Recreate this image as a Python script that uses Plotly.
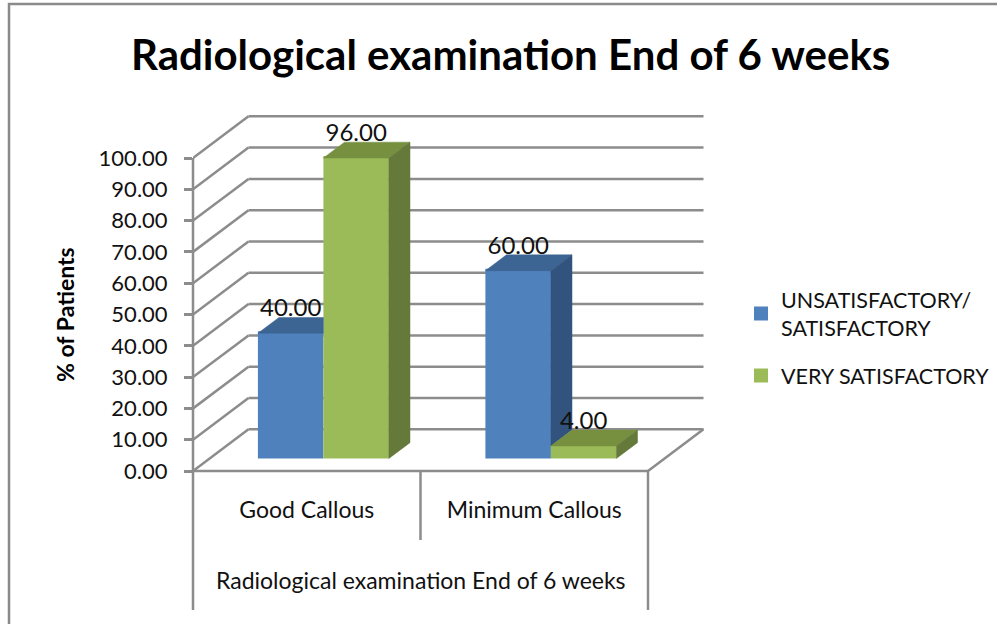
import plotly.graph_objects as go

categories = ["Good Callous", "Minimum Callous"]
unsatisfactory = [40.0, 60.0]
very_satisfactory = [96.0, 4.0]
y_ticks = [0, 10, 20, 30, 40, 50, 60, 70, 80, 90, 100]
title_text = "Radiological examination End of 6 weeks"
group_label = "Radiological examination End of 6 weeks"
y_title = "% of Patients"
series_names = ["UNSATISFACTORY/<br>SATISFACTORY", "VERY SATISFACTORY"]

W, H = 997, 624
FONT = "Lato"
TXT = "#111111"
GRID = "#8c8c8c"
BLUE, BLUE_TOP, BLUE_SIDE = "#4F81BD", "#3D6593", "#31537E"
GREEN, GREEN_TOP, GREEN_SIDE = "#9BBB59", "#76903F", "#64793A"

# projection of the fake 3-D box, in axis units
X_PX, Y_PX = 227.5, 3.13       # px per category, px per percent
LEFT, FLOOR = 193, 471         # pixel position of x=-0.5 and y=0
RIGHT, Y_MIN, Y_MAX = 710, -3, 115
X_MIN, X_MAX = -0.5, -0.5 + (RIGHT - LEFT) / X_PX
DX, DY = 55.5 / X_PX, 41.7 / Y_PX   # full depth of the box
BAR_W = 65.5 / X_PX
D0, D1 = 0.30, 0.68            # depth of the bar fronts and backs


def proj(x, y, d):
    return x + d * DX, y + d * DY


base = proj(0, 0, D0)[1]
sx, sy = (D1 - D0) * DX, (D1 - D0) * DY
fronts = [i + D0 * DX for i in range(len(categories))]


def poly(points, color):
    xs = [p[0] for p in points] + [points[0][0]]
    ys = [p[1] for p in points] + [points[0][1]]
    return go.Scatter(x=xs, y=ys, mode="lines", fill="toself", fillcolor=color,
                      line=dict(color=color, width=0.5), showlegend=False, hoverinfo="skip")


# the 2 px outline (same colour) makes the legend swatches as large as the reference's
fig = go.Figure()
fig.add_bar(x=[f - BAR_W / 2 for f in fronts], y=unsatisfactory, base=base + 1 / Y_PX,
            width=BAR_W - 2 / X_PX, marker=dict(color=BLUE, line=dict(width=2, color=BLUE)),
            name=series_names[0], legendgroup="a", hoverinfo="skip")
fig.add_bar(x=[f + BAR_W / 2 for f in fronts], y=very_satisfactory, base=base + 1 / Y_PX,
            width=BAR_W - 2 / X_PX, marker=dict(color=GREEN, line=dict(width=2, color=GREEN)),
            name=series_names[1], legendgroup="b", hoverinfo="skip")

# top and side faces; a blue face is cut where the green neighbour hides it
for f, u, v in zip(fronts, unsatisfactory, very_satisfactory):
    xl, xm, xr = f - BAR_W, f, f + BAR_W
    top = base + u
    if v >= u:
        fig.add_trace(poly([(xl, top), (xm, top), (xm, top + sy), (xl + sx, top + sy)], BLUE_TOP))
    else:
        fig.add_trace(poly([(xl, top), (xm, top), (xm + sx, top + sy), (xl + sx, top + sy)], BLUE_TOP))
        low = base + v
        fig.add_trace(poly([(xm, low), (xm, top), (xm + sx, top + sy), (xm + sx, low + sy)], BLUE_SIDE))
    top = base + v
    fig.add_trace(poly([(xm, top), (xr, top), (xr + sx, top + sy), (xm + sx, top + sy)], GREEN_TOP))
    fig.add_trace(poly([(xr, base), (xr, top), (xr + sx, top + sy), (xr + sx, base + sy)], GREEN_SIDE))

# value labels
LIFT = 11 / Y_PX
lab_x = [f - BAR_W / 2 for f in fronts] + [f + BAR_W / 2 for f in fronts]
lab_v = unsatisfactory + very_satisfactory
fig.add_trace(go.Scatter(x=lab_x, y=[base + v + LIFT for v in lab_v], mode="text",
                         text=[f"{v:.2f}" for v in lab_v], textposition="top center",
                         textfont=dict(family=FONT, size=24, color=TXT), cliponaxis=False,
                         showlegend=False, hoverinfo="skip"))

# page-pixel helpers: the margins are zero, so paper coordinates are the page itself
def px_x(p):
    return p / W


def px_y(p):
    return (H - p) / H


def xp(x):
    return px_x(LEFT + (x - X_MIN) * X_PX)


def yp(y):
    return px_y(FLOOR - y * Y_PX)


shapes = []
line = dict(color=GRID, width=2.5)
for t in y_ticks:
    x0, y0 = proj(-0.5, t, 0)
    x1, y1 = proj(-0.5, t, 1)
    shapes.append(dict(type="line", xref="x", yref="y", x0=x0, y0=y0, x1=x1, y1=y1, line=line, layer="below"))
    x2, _ = proj(1.5, t, 1)
    shapes.append(dict(type="line", xref="x", yref="y", x0=x1, y0=y1, x1=x2, y1=y1, line=line, layer="below"))

# floor edges
x0, y0 = proj(-0.5, 0, 0)
x1, y1 = proj(1.5, 0, 0)
x2, y2 = proj(1.5, 0, 1)
shapes.append(dict(type="line", xref="x", yref="y", x0=x0, y0=y0, x1=x1, y1=y1, line=line, layer="below"))
shapes.append(dict(type="line", xref="x", yref="y", x0=x1, y0=y1, x1=x2, y1=y2, line=line, layer="below"))

# axis rule and the multi-level category dividers below the floor
AX_BOTTOM = (FLOOR - 610) / Y_PX
SEP_BOTTOM = (FLOOR - 540) / Y_PX
shapes.append(dict(type="line", xref="paper", yref="paper", x0=xp(-0.5), x1=xp(-0.5),
                   y0=yp(AX_BOTTOM), y1=yp(100), line=line))
shapes.append(dict(type="line", xref="paper", yref="paper", x0=xp(1.5), x1=xp(1.5),
                   y0=yp(AX_BOTTOM), y1=yp(0), line=line))
shapes.append(dict(type="line", xref="paper", yref="paper", x0=xp(0.5), x1=xp(0.5),
                   y0=yp(SEP_BOTTOM), y1=yp(0), line=line))

# chart frame, running off the top-right of the page
shapes.append(dict(type="rect", xref="paper", yref="paper", x0=px_x(9), x1=px_x(1010),
                   y0=px_y(640), y1=px_y(4), line=dict(color="#8a8a8a", width=2.5), layer="below"))

annotations = [
    dict(text=f"<b>{title_text}</b>", xref="paper", yref="paper", x=px_x(510), y=px_y(54),
         showarrow=False, xanchor="center", yanchor="middle", font=dict(family=FONT, size=42, color="#000")),
    dict(text=f"<b>{y_title}</b>", xref="paper", yref="paper", x=px_x(65), y=px_y(315), textangle=-90,
         showarrow=False, xanchor="center", yanchor="middle", font=dict(family=FONT, size=23, color="#000")),
    dict(text=group_label, xref="paper", yref="paper", x=xp(0.5), y=px_y(580),
         showarrow=False, xanchor="center", yanchor="middle", font=dict(family=FONT, size=23, color=TXT)),
]

fig.update_layout(
    width=W, height=H, margin=dict(l=0, r=0, t=0, b=0, pad=0),
    paper_bgcolor="white", plot_bgcolor="rgba(0,0,0,0)", barmode="overlay",
    shapes=shapes, annotations=annotations, hovermode=False,
    font=dict(family=FONT, color=TXT),
    legend=dict(x=px_x(741), y=px_y(279), xanchor="left", yanchor="top",
                font=dict(family=FONT, size=21.5, color=TXT), itemwidth=30, bgcolor="rgba(0,0,0,0)",
                traceorder="grouped", tracegroupgap=17),
    xaxis=dict(domain=[px_x(LEFT), px_x(RIGHT)], range=[X_MIN, X_MAX], tickmode="array",
               tickvals=list(range(len(categories))), ticktext=categories, showgrid=False,
               zeroline=False, showline=False, ticks="", automargin=False,
               tickfont=dict(family=FONT, size=23, color=TXT), ticklabelstandoff=14),
    yaxis=dict(domain=[yp(Y_MIN), yp(Y_MAX)], range=[Y_MIN, Y_MAX], tickmode="array",
               tickvals=y_ticks, tickformat=".2f", showgrid=False, zeroline=False, showline=False,
               ticks="outside", ticklen=8, tickwidth=2.5, tickcolor=GRID, automargin=False,
               tickfont=dict(family=FONT, size=22, color=TXT), ticklabelstandoff=12),
)

fig.write_html("out.html", config={"displayModeBar": False},
               post_script="document.body.style.margin='0';")
